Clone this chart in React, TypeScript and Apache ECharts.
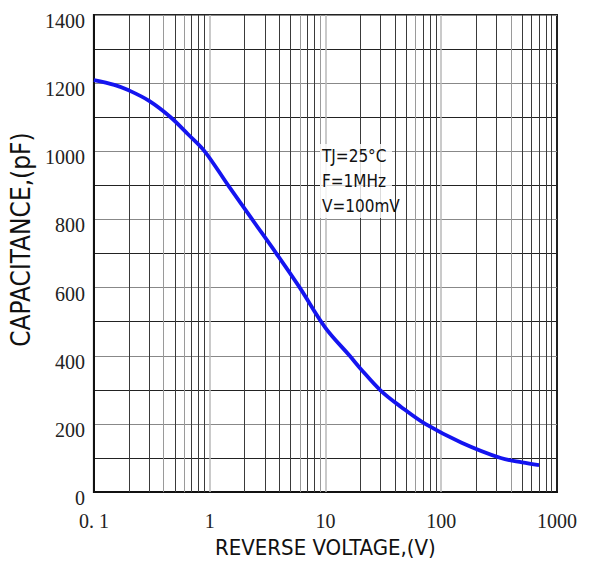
import React, { useEffect, useRef } from "react";
import * as echarts from "echarts";

const voltage = [0.1, 0.15, 0.2, 0.3, 0.46, 0.65, 0.905, 1.445, 2.33, 3.77, 6, 10, 16.2, 20, 30, 45, 72.8, 150, 327, 500, 700];
const capacitance = [1209, 1195, 1179, 1148, 1100, 1050, 1000, 900, 800, 700, 600, 482, 400, 363, 298, 250, 200, 145, 100, 87, 79];

const decadeLines = [1, 10, 100];
const minorLines = [
  0.2, 0.3, 0.4, 0.5, 0.6, 0.7, 0.8, 0.9,
  2, 3, 4, 5, 6, 7, 8, 9,
  20, 30, 40, 50, 60, 70, 80, 90,
  200, 300, 400, 500, 600, 700, 800, 900,
];
const lighterMinor = [0.4, 0.6, 6, 9, 60, 400];

const annotation = ["TJ=25\u00B0C", "F=1MHz", "V=100mV"];

const xTitle = "REVERSE VOLTAGE,(V)";
const yTitle = "CAPACITANCE,(pF)";

export default function App() {
  const ref = useRef<HTMLDivElement>(null);
  useEffect(() => {
    if (!ref.current) return;
    const chart = echarts.init(ref.current, null, { renderer: "svg" });
    const gridLines = [
      ...minorLines.map((v) => ({
        xAxis: v,
        lineStyle: { color: lighterMinor.includes(v) ? "#9a9a9a" : "#3a3a3a", width: 1, type: "solid" },
      })),
      ...decadeLines.map((v) => ({
        xAxis: v,
        lineStyle: { color: "#b8b8b8", width: 1.5, type: "solid" },
      })),
    ];
    chart.setOption({
      animation: false,
      backgroundColor: "#fff",
      textStyle: { fontFamily: "Liberation Serif" },
      grid: {
        left: 87,
        right: 32,
        top: 15,
        bottom: 63,
        show: true,
        borderColor: "#222",
        borderWidth: 2,
      },
      xAxis: {
        type: "log",
        logBase: 10,
        min: 0.1,
        max: 1000,
        name: xTitle,
        nameLocation: "middle",
        nameGap: 25,
        nameTextStyle: {
          fontFamily: "DejaVu Sans Condensed",
          fontSize: 22,
          color: "#111",
        },
        axisLine: { show: true, lineStyle: { color: "#111", width: 2 } },
        axisTick: { show: false },
        splitLine: { show: false },
        axisLabel: {
          fontFamily: "Liberation Serif",
          fontSize: 20,
          color: "#222",
          margin: 19,
          formatter: (v: number) => (Math.abs(v - 0.1) < 1e-9 ? "0. 1" : String(Math.round(v))),
        },
      },
      yAxis: {
        type: "value",
        min: 0,
        max: 1400,
        interval: 100,
        name: yTitle,
        nameLocation: "middle",
        nameGap: 40,
        nameTextStyle: {
          fontFamily: "DejaVu Sans Condensed",
          fontSize: 26,
          color: "#111",
          padding: [0, 0, 0, 28],
        },
        axisLine: { show: true, lineStyle: { color: "#111", width: 2 } },
        axisTick: { show: false },
        splitLine: {
          show: true,
          lineStyle: { color: ["#888", "#222"], width: 1.2 },
        },
        axisLabel: {
          fontFamily: "Liberation Serif",
          fontSize: 20,
          fontWeight: "normal",
          color: "#222",
          margin: 9,
          verticalAlign: "top",
          lineHeight: 12,
          formatter: (v: number) => (v % 200 === 0 ? String(v) : ""),
        },
      },
      series: [
        {
          type: "line",
          data: [
            [0.1, 0],
            [1000, 0],
          ],
          symbol: "none",
          lineStyle: { opacity: 0 },
          silent: true,
          z: 1,
          markLine: {
            silent: true,
            symbol: ["none", "none"],
            label: { show: false },
            animation: false,
            data: gridLines,
          },
        },
        {
          type: "line",
          data: voltage.map((v, i) => [v, capacitance[i]]),
          symbol: "none",
          smooth: 0.35,
          z: 5,
          lineStyle: { color: "#1414f0", width: 3.8 },
        },
      ],
      graphic: [
        {
          type: "rect",
          shape: { x: 320, y: 144, width: 72, height: 74 },
          style: { fill: "rgba(255,255,255,0.82)" },
          z: 10,
        },
        {
          type: "text",
          x: 322,
          y: 143,
          z: 11,
          style: {
            text: annotation.join("\n"),
            fontFamily: "DejaVu Sans Condensed",
            fontSize: 17,
            lineHeight: 25,
            fill: "#111",
          },
        },
      ],
    });
    return () => chart.dispose();
  }, []);
  return (
    <div
      ref={ref}
      style={{ position: "fixed", left: 0, top: 0, width: 589, height: 563 }}
    />
  );
}
